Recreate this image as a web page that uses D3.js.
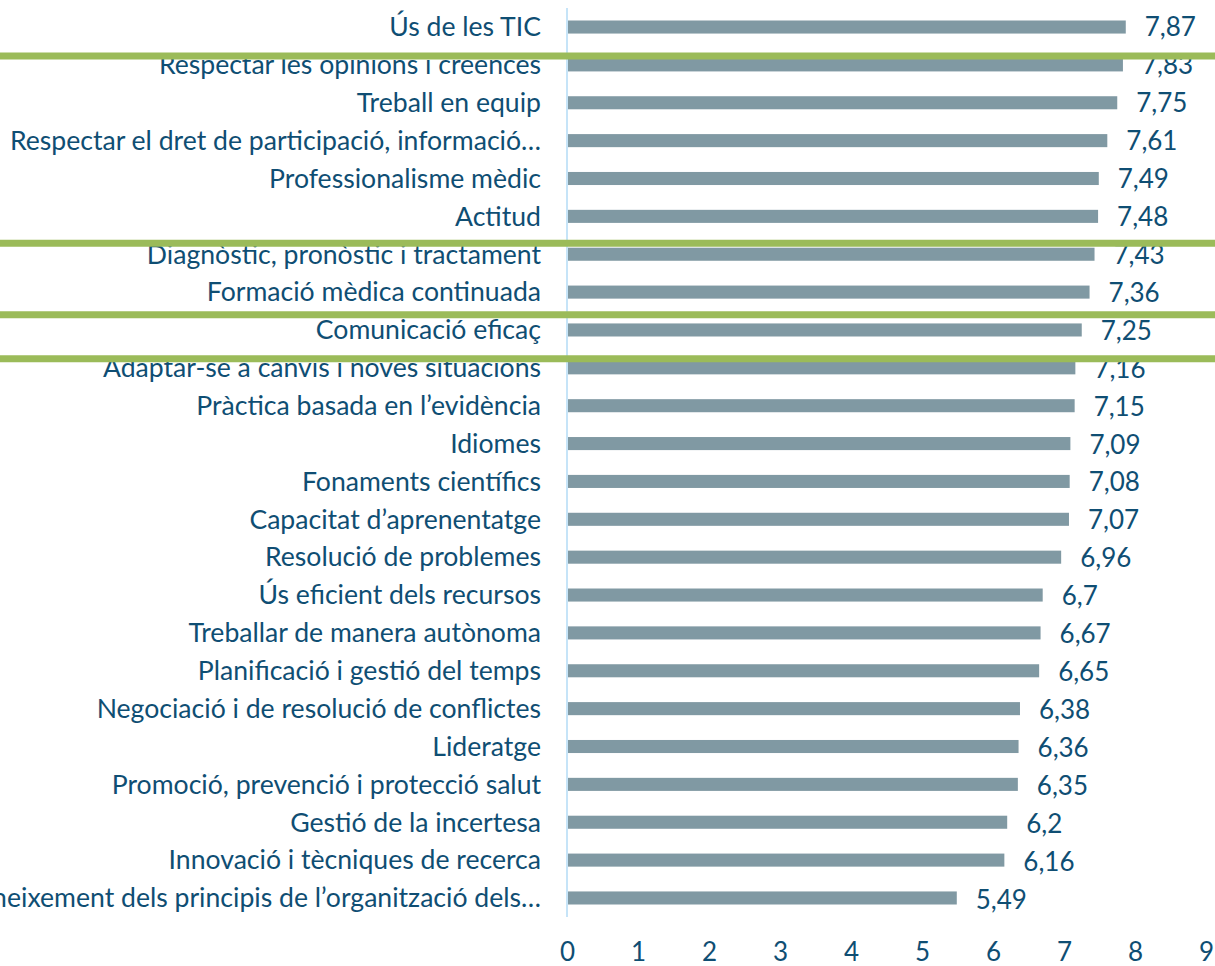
<!DOCTYPE html>
<meta charset="utf-8">
<script src="https://d3js.org/d3.v7.min.js"></script>
<style>
  body { margin: 0; background: #fff; }
  text { font-family: Lato, "Open Sans", sans-serif; }
</style>
<div id="my_dataviz"></div>
<script>

  // categories, top to bottom
  var categories = [
    "Ús de les TIC",
    "Respectar les opinions i creences",
    "Treball en equip",
    "Respectar el dret de participació, informació…",
    "Professionalisme mèdic",
    "Actitud",
    "Diagnòstic, pronòstic i tractament",
    "Formació mèdica continuada",
    "Comunicació eficaç",
    "Adaptar-se a canvis i noves situacions",
    "Pràctica basada en l’evidència",
    "Idiomes",
    "Fonaments científics",
    "Capacitat d’aprenentatge",
    "Resolució de problemes",
    "Ús eficient dels recursos",
    "Treballar de manera autònoma",
    "Planificació i gestió del temps",
    "Negociació i de resolució de conflictes",
    "Lideratge",
    "Promoció, prevenció i protecció salut",
    "Gestió de la incertesa",
    "Innovació i tècniques de recerca",
    "Coneixement dels principis de l’organització dels…"
  ];
  var values = [7.87, 7.83, 7.75, 7.61, 7.49, 7.48, 7.43, 7.36, 7.25, 7.16, 7.15, 7.09,
                7.08, 7.07, 6.96, 6.7, 6.67, 6.65, 6.38, 6.36, 6.35, 6.2, 6.16, 5.49];
  var xTicks = [0, 1, 2, 3, 4, 5, 6, 7, 8, 9];
  // green highlight lines, in row units from the top of the plot
  var highlightRows = [1.27, 6.21, 8.10, 9.26];

  var W = 1215, H = 966;
  var margin = {top: 8, right: 9, bottom: 49, left: 567};
  var width = W - margin.left - margin.right,
      height = H - margin.top - margin.bottom;
  var fontSize = "26px";

  var svg = d3.select("#my_dataviz")
    .append("svg")
      .attr("width", W)
      .attr("height", H)
    .append("g")
      .attr("transform", "translate(" + margin.left + "," + margin.top + ")");

  var x = d3.scaleLinear()
    .domain([0, 9])
    .range([0, width]);

  var y = d3.scaleBand()
    .domain(categories)
    .range([0, height])
    .paddingInner(0.655)
    .paddingOuter(0.33);

  var rowScale = d3.scaleLinear()
    .domain([0, categories.length])
    .range([0, height]);

  var textColor = "#0f4e73";

  // X axis labels (no line, no ticks)
  var xAxis = svg.append("g")
    .attr("transform", "translate(0," + (height + 23) + ")")
    .call(d3.axisBottom(x).tickValues(xTicks).tickSize(0).tickFormat(d3.format("d")));
  xAxis.select(".domain").remove();
  xAxis.selectAll("text")
    .attr("fill", textColor)
    .style("font-size", fontSize)
    .style("font-family", "Lato, 'Open Sans', sans-serif");

  // Y axis: category labels + light vertical line
  var yAxis = svg.append("g")
    .call(d3.axisLeft(y).tickSize(0).tickPadding(26));
  yAxis.select(".domain").remove();
  yAxis.selectAll("text")
    .attr("fill", textColor)
    .attr("dy", "0.35em")
    .style("font-size", "26.6px")
    .style("font-family", "Lato, 'Open Sans', sans-serif");

  svg.append("line")
    .attr("x1", x(0)).attr("x2", x(0))
    .attr("y1", 0).attr("y2", height)
    .attr("stroke", "#c6e4f8")
    .attr("stroke-width", 2);

  var data = categories.map(function(c, i) { return {name: c, value: values[i]}; });

  // Bars
  svg.selectAll("mybar")
    .data(data)
    .enter()
    .append("rect")
      .attr("x", x(0) + 1)
      .attr("y", function(d) { return y(d.name); })
      .attr("width", function(d) { return x(d.value) - x(0) - 1; })
      .attr("height", y.bandwidth())
      .attr("fill", "#8099a3");

  // Value labels
  svg.selectAll("vlabel")
    .data(data)
    .enter()
    .append("text")
      .attr("x", function(d) { return x(d.value) + 19; })
      .attr("y", function(d, i) { return y(d.name) + y.bandwidth() / 2 + i * 0.08; })
      .attr("dy", "0.35em")
      .attr("fill", textColor)
      .style("font-size", fontSize)
      .text(function(d) { return String(d.value).replace(".", ","); });

  // Green highlight lines across the whole picture
  svg.selectAll("hl")
    .data(highlightRows)
    .enter()
    .append("line")
      .attr("x1", -margin.left)
      .attr("x2", W - margin.left)
      .attr("y1", function(d) { return rowScale(d); })
      .attr("y2", function(d) { return rowScale(d); })
      .attr("stroke", "#9bbb59")
      .attr("stroke-width", 7);

</script>
